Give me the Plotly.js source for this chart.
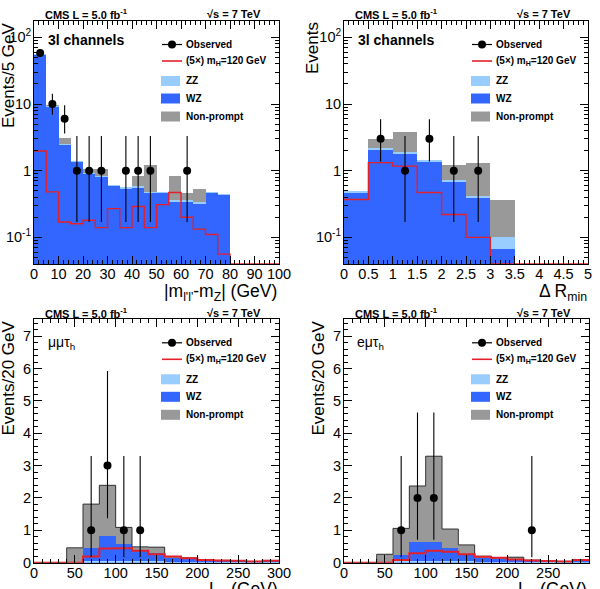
<!DOCTYPE html>
<html>
<head>
<meta charset="utf-8">
<script src="https://cdn.plot.ly/plotly-3.0.1.min.js"></script>
<style>html,body{margin:0;padding:0;background:#fff}</style>
</head>
<body>
<div id="chart" style="width:600px;height:589px"></div>
<script>
// ---------- |m_l'l' - m_Z| (3l channels), 5 GeV bins ----------
const mzEdges = [0,5,10,15,20,25,30,35,40,45,50,55,60,65,70,75,80,85,90,95,100];
const mzWZ  = [55, 9.0, 2.4, 1.33, 0.89, 0.79, 0.58, 0.53, 0.55, 0.46, 0.46, 0.34, 0.34, 0.32, 0.46, 0.43, 0, 0, 0, 0];
const mzZZ  = [1.5, 0.4, 0.15, 0.05, 0.04, 0.03, 0.03, 0.03, 0.03, 0.02, 0.02, 0.02, 0.02, 0.02, 0.02, 0.01, 0, 0, 0, 0];
const mzNP  = [0.5, 0.3, 0.5, 0, 0.12, 0.23, 0, 0, 0.25, 0.74, 0, 0.47, 0.10, 0.19, 0, 0, 0, 0, 0, 0];
const mzSig = [1.97, 0.48, 0.17, 0.16, 0.18, 0.14, 0.27, 0.14, 0.29, 0.14, 0.31, 0.47, 0.20, 0.133, 0.11, 0.056, 0, 0, 0, 0];
const mzObs = [58, 10, 6, 1, 1, 1, 0, 1, 1, 1, 0, 0, 1, 0, 0, 0, 0, 0, 0, 0];

// ---------- Delta R_min (3l channels), 0.5 bins ----------
const drEdges = [0,0.5,1,1.5,2,2.5,3,3.5,4,4.5,5];
const drWZ  = [0.47, 2.04, 1.78, 1.36, 0.68, 0.385, 0.068, 0, 0, 0];
const drZZ  = [0.03, 0.17, 0.10, 0.09, 0.04, 0.025, 0.032, 0, 0, 0];
const drNP  = [0, 0.74, 1.88, 0, 0.50, 0.88, 0.26, 0, 0, 0];
const drSig = [0.37, 1.32, 1.17, 0.47, 0.22, 0.10, 0, 0, 0, 0];
const drObs = [0, 3, 1, 3, 1, 1, 0, 0, 0, 0];

// ---------- L_T, mu mu tau_h, 20 GeV bins ----------
const ltEdges = [0,20,40,60,80,100,120,140,160,180,200,220,240,260,280,300];
const mmZZ  = [0, 0, 0, 0.04, 0.06, 0.06, 0.05, 0.04, 0.03, 0.02, 0.01, 0.01, 0.01, 0.01, 0.01];
const mmWZ  = [0, 0, 0, 0.42, 0.76, 0.51, 0.34, 0.25, 0.12, 0.10, 0.05, 0.04, 0.03, 0.02, 0.04];
const mmNP  = [0, 0, 0.46, 1.35, 1.57, 0.52, 0.10, 0.19, 0.04, 0.03, 0.02, 0.02, 0.02, 0.01, 0.02];
const mmSig = [0, 0, 0, 0.19, 0.44, 0.45, 0.37, 0.26, 0.19, 0.14, 0.08, 0.07, 0.06, 0.04, 0.06];
const mmObs = [0, 0, 0, 1, 3, 1, 1, 0, 0, 0, 0, 0, 0, 0, 0];

// ---------- L_T, e mu tau_h, 20 GeV bins ----------
const emZZ  = [0, 0, 0, 0.04, 0.05, 0.06, 0.05, 0.04, 0.03, 0.02, 0.02, 0.01, 0.01, 0.01, 0.01];
const emWZ  = [0, 0, 0, 0.20, 0.59, 0.58, 0.39, 0.23, 0.13, 0.10, 0.08, 0.05, 0.03, 0.02, 0.05];
const emNP  = [0, 0, 0.26, 0.82, 1.73, 2.65, 0.60, 0.28, 0.04, 0.03, 0.07, 0.02, 0.01, 0.01, 0.02];
const emSig = [0, 0, 0, 0.08, 0.29, 0.37, 0.34, 0.26, 0.18, 0.15, 0.10, 0.07, 0.05, 0.04, 0.08];
const emObs = [0, 0, 0, 1, 2, 2, 0, 0, 0, 0, 0, 1, 0, 0, 0];

// central 68% intervals drawn for each observed count
const obsLow  = {1: 0.17, 2: 0.71, 3: 1.37, 6: 3.62, 10: 6.89, 58: 50.5};
const obsHigh = {1: 3.30, 2: 4.64, 3: 5.92, 6: 9.58, 10: 14.27, 58: 66.6};

const cWZ = '#3366ff', cZZ = '#99ccff', cNP = '#999999', cSig = '#e3202a';
const FONT = 'Liberation Sans, Arial, Helvetica, sans-serif';
const W = 600, H = 589;
const X = px => px / W;
const Y = py => 1 - py / H;

// plot-area boxes in pixels: [left, right, top, bottom]
const boxes = [
  [34, 279, 21, 264],
  [344, 588, 21, 264],
  [34, 279, 319.3, 562.7],
  [344, 589, 319.3, 562.7]
];
const LOG_FLOOR = Math.pow(10, -1.4);

function centers(edges) { return edges.slice(0, -1).map((e, i) => (e + edges[i + 1]) / 2); }
function widths(edges)  { return edges.slice(0, -1).map((e, i) => edges[i + 1] - e); }
function addArr(a, b)   { return a.map((v, i) => v + b[i]); }

function bars(edges, vals, color, ax) {
  return {type: 'bar', x: centers(edges), y: vals, width: widths(edges),
          marker: {color: color, line: {width: 0}}, xaxis: 'x' + ax, yaxis: 'y' + ax,
          hoverinfo: 'skip'};
}
function step(edges, vals, color, width, ax, isLog) {
  const y = vals.map(v => (isLog && v <= 0) ? LOG_FLOOR : v);
  return {type: 'scatter', mode: 'lines', x: edges.slice(), y: y.concat([y[y.length - 1]]),
          line: {shape: 'hv', color: color, width: width}, xaxis: 'x' + ax, yaxis: 'y' + ax,
          hoverinfo: 'skip'};
}
function observed(edges, counts, ax) {
  const c = centers(edges), xs = [], ys = [], up = [], dn = [];
  counts.forEach((n, i) => {
    if (n > 0) { xs.push(c[i]); ys.push(n); up.push(obsHigh[n] - n); dn.push(n - obsLow[n]); }
  });
  return {type: 'scatter', mode: 'markers', x: xs, y: ys,
          marker: {color: 'black', size: 8},
          error_y: {type: 'data', symmetric: false, array: up, arrayminus: dn,
                    width: 0, thickness: 1.1, color: 'black'},
          xaxis: 'x' + ax, yaxis: 'y' + ax, hoverinfo: 'skip'};
}

const traces = [];
// log panels: WZ at the bottom, ZZ above it, non-prompt on top
function logPanel(edges, wz, zz, np, sig, obs, ax) {
  const s1 = addArr(wz, zz), s2 = addArr(s1, np);
  traces.push(bars(edges, s2, cNP, ax));
  traces.push(bars(edges, s1, cZZ, ax));
  traces.push(bars(edges, wz, cWZ, ax));
  traces.push(step(edges, sig, cSig, 1.4, ax, true));
  traces.push(observed(edges, obs, ax));
}
// linear panels: ZZ at the bottom, WZ above, non-prompt on top with an outline
function linPanel(edges, zz, wz, np, sig, obs, ax) {
  const s1 = addArr(zz, wz), s2 = addArr(s1, np);
  traces.push(bars(edges, s2, cNP, ax));
  traces.push(bars(edges, s1, cWZ, ax));
  traces.push(bars(edges, zz, cZZ, ax));
  traces.push(step(edges, s2, '#333333', 1, ax, false));
  traces.push(step(edges, sig, cSig, 2, ax, false));
  traces.push(observed(edges, obs, ax));
}
logPanel(mzEdges, mzWZ, mzZZ, mzNP, mzSig, mzObs, '');
logPanel(drEdges, drWZ, drZZ, drNP, drSig, drObs, '2');
linPanel(ltEdges, mmZZ, mmWZ, mmNP, mmSig, mmObs, '3');
linPanel(ltEdges, emZZ, emWZ, emNP, emSig, emObs, '4');

const TICKFONT = {size: 14.5, family: FONT, color: 'black'};
function xAxis(b, range, dtick, minorDtick, anchor) {
  return {domain: [X(b[0]), X(b[1])], range: range, tickmode: 'linear', tick0: 0, dtick: dtick,
          ticks: 'inside', ticklen: 8, tickwidth: 1, tickcolor: 'black',
          showline: true, linecolor: 'black', linewidth: 1, mirror: 'ticks',
          showgrid: false, zeroline: false, anchor: anchor,
          tickfont: TICKFONT, ticklabelstandoff: -3,
          minor: {ticks: 'inside', ticklen: 4, tickwidth: 1, tickcolor: 'black', dtick: minorDtick, tick0: 0, showgrid: false}};
}
const logMinor = [];
[0.01, 0.1, 1, 10, 100].forEach(d => { for (let k = 2; k <= 9; k++) logMinor.push(k * d); });
function yLog(b, anchor) {
  return {domain: [Y(b[3]), Y(b[2])], type: 'log', range: [-1.4, 2.245],
          tickmode: 'array', tickvals: [0.1, 1, 10, 100],
          ticktext: ['10<sup>-1</sup>', '1', '10', '10<sup>2</sup>'],
          ticks: 'inside', ticklen: 8, tickwidth: 1, tickcolor: 'black',
          showline: true, linecolor: 'black', linewidth: 1, mirror: 'ticks',
          showgrid: false, zeroline: false, anchor: anchor,
          tickfont: TICKFONT, ticklabelstandoff: -1,
          minor: {ticks: 'inside', ticklen: 4, tickwidth: 1, tickcolor: 'black',
                  tickmode: 'array', tickvals: logMinor, showgrid: false}};
}
function yLin(b, anchor) {
  return {domain: [Y(b[3]), Y(b[2])], range: [0, 7.52], tickmode: 'linear', tick0: 0, dtick: 1,
          ticks: 'inside', ticklen: 8, tickwidth: 1, tickcolor: 'black',
          showline: true, linecolor: 'black', linewidth: 1, mirror: 'ticks',
          showgrid: false, zeroline: false, anchor: anchor,
          tickfont: TICKFONT, ticklabelstandoff: -1,
          minor: {ticks: 'inside', ticklen: 4, tickwidth: 1, tickcolor: 'black', dtick: 0.2, tick0: 0, showgrid: false}};
}

const annotations = [];
const shapes = [];
function txt(text, px, py, size, xanchor, extra) {
  annotations.push(Object.assign({text: text, xref: 'paper', yref: 'paper', x: X(px), y: Y(py),
    xanchor: xanchor, yanchor: 'middle', showarrow: false,
    font: {family: FONT, size: size, color: 'black'}}, extra || {}));
}

// headers, panel labels and axis titles
boxes.forEach(b => {
  const hy = b[2] - 6.5;
  txt('<b>CMS L = 5.0 fb<sup>-1</sup></b>', b[0] + 9, hy, 11, 'left');
  txt('<b>√s = 7 TeV</b>', b[0] + 229, hy, 11, 'right');
});
txt('<b>3l channels</b>', 46, 40, 14, 'left');
txt('<b>3l channels</b>', 356, 40, 14, 'left');
txt('μμτ<sub>h</sub>', 46, 343, 14, 'left');
txt('eμτ<sub>h</sub>', 355, 343, 14, 'left');

txt('Events/5 GeV', 8, 20, 17, 'center', {yanchor: 'top', textangle: -90});
txt('Events', 313, 20, 17, 'center', {yanchor: 'top', textangle: -90});
txt('Events/20 GeV', 8, 319, 17, 'center', {yanchor: 'top', textangle: -90});
txt('Events/20 GeV', 318, 319, 17, 'center', {yanchor: 'top', textangle: -90});

txt("|m<sub>l'l'</sub>-m<sub>Z</sub>| (GeV)", 279, 292, 17.5, 'right');
txt('Δ R<sub>min</sub>', 589, 292, 17.5, 'right');
txt('L<sub>T</sub> (GeV)', 280, 590, 17.5, 'right');
txt('L<sub>T</sub> (GeV)', 589, 590, 17.5, 'right');

// per-panel legend
function legend(L, T) {
  const lx0 = L + 128, lx1 = L + 148, tx = L + 150;
  shapes.push({type: 'line', xref: 'paper', yref: 'paper', x0: X(lx0), x1: X(lx1), y0: Y(T + 23.5), y1: Y(T + 23.5),
               line: {color: 'black', width: 1.2}});
  shapes.push({type: 'circle', xref: 'paper', yref: 'paper', x0: X(L + 134), x1: X(L + 142),
               y0: Y(T + 27.5), y1: Y(T + 19.5), fillcolor: 'black', line: {color: 'black', width: 0}});
  txt('<b>Observed</b>', tx, T + 23.5, 10, 'left');
  shapes.push({type: 'line', xref: 'paper', yref: 'paper', x0: X(lx0), x1: X(lx1), y0: Y(T + 40), y1: Y(T + 40),
               line: {color: cSig, width: 1.6}});
  txt('<b>(5×) m<sub>H</sub>=120 GeV</b>', tx, T + 40, 10, 'left');
  [['ZZ', cZZ, 60], ['WZ', cWZ, 77.5], ['Non-prompt', cNP, 95.5]].forEach(e => {
    shapes.push({type: 'rect', xref: 'paper', yref: 'paper', x0: X(L + 127), x1: X(L + 146),
                 y0: Y(T + e[2] + 5), y1: Y(T + e[2] - 5), fillcolor: e[1], line: {width: 0}});
    txt('<b>' + e[0] + '</b>', tx, T + e[2], 10, 'left');
  });
}
boxes.forEach(b => legend(b[0], b[2]));

const layout = {
  width: W, height: H, margin: {l: 0, r: 0, t: 0, b: 0},
  paper_bgcolor: 'white', plot_bgcolor: 'white',
  showlegend: false, barmode: 'overlay', bargap: 0,
  font: {family: FONT, color: 'black'},
  xaxis:  xAxis(boxes[0], [0, 100], 10, 2, 'y'),
  yaxis:  yLog(boxes[0], 'x'),
  xaxis2: xAxis(boxes[1], [0, 5], 0.5, 0.1, 'y2'),
  yaxis2: yLog(boxes[1], 'x2'),
  xaxis3: xAxis(boxes[2], [0, 300], 50, 10, 'y3'),
  yaxis3: yLin(boxes[2], 'x3'),
  xaxis4: xAxis(boxes[3], [0, 300], 50, 10, 'y4'),
  yaxis4: yLin(boxes[3], 'x4'),
  annotations: annotations, shapes: shapes
};

Plotly.newPlot('chart', traces, layout, {staticPlot: true, displayModeBar: false});
</script>
</body>
</html>
